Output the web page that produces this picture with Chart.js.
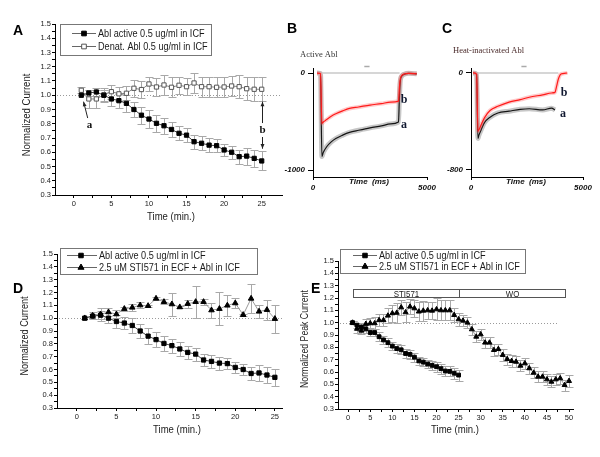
<!DOCTYPE html>
<html>
<head>
<meta charset="utf-8">
<script src="https://cdn.jsdelivr.net/npm/chart.js@4.4.1/dist/chart.umd.min.js"></script>
<style>
  html, body { margin: 0; padding: 0; background: #fff; }
  #fig { position: relative; width: 600px; height: 457px; overflow: hidden; }
  #fig canvas { position: absolute; left: 0; top: 0; }
</style>
</head>
<body>
<div id="fig">
  <canvas id="panelA" width="600" height="457"></canvas>
  <canvas id="panelB" width="600" height="457"></canvas>
  <canvas id="panelC" width="600" height="457"></canvas>
  <canvas id="panelD" width="600" height="457"></canvas>
  <canvas id="panelE" width="600" height="457"></canvas>
</div>
<script>
// ---- data ----
const minutes25 = [1, 2, 3, 4, 5, 6, 7, 8, 9, 10, 11, 12, 13, 14, 15, 16, 17, 18, 19, 20, 21, 22, 23, 24, 25];
const minutes50 = [1, 2, 3, 4, 5, 6, 7, 8, 9, 10, 11, 12, 13, 14, 15, 16, 17, 18, 19, 20, 21, 22, 23, 24, 25,
  26, 27, 28, 29, 30, 31, 32, 33, 34, 35, 36, 37, 38, 39, 40, 41, 42, 43, 44, 45, 46, 47, 48, 49, 50];

// A and D: active Abl
const ablActive = [1.00, 1.016, 1.023, 1.00, 0.974, 0.962, 0.943, 0.90, 0.86, 0.833, 0.803, 0.786, 0.76,
  0.733, 0.72, 0.674, 0.663, 0.65, 0.646, 0.616, 0.60, 0.569, 0.573, 0.557, 0.539];
const ablActiveErr = [0, 0.02, 0.03, 0.04, 0.05, 0.05, 0.06, 0.055, 0.06, 0.06, 0.06, 0.055, 0.055, 0.05,
  0.05, 0.05, 0.05, 0.05, 0.045, 0.045, 0.045, 0.05, 0.06, 0.06, 0.067];
// A: denatured Abl
const ablDenat = [1.035, 0.974, 0.974, 1.003, 1.025, 1.01, 1.014, 1.049, 1.04, 1.079, 1.058, 1.072, 1.056,
  1.07, 1.06, 1.086, 1.06, 1.06, 1.056, 1.058, 1.065, 1.06, 1.046, 1.042, 1.042];
const ablDenatErr = [0.02, 0.06, 0.06, 0.05, 0.05, 0.05, 0.05, 0.06, 0.06, 0.05, 0.06, 0.07, 0.07, 0.06,
  0.06, 0.07, 0.07, 0.07, 0.07, 0.07, 0.07, 0.08, 0.08, 0.085, 0.085];
// D: STI571 in ECF + Abl in ICF
const stiD = [1.00, 1.02, 1.031, 1.047, 1.031, 1.073, 1.083, 1.101, 1.096, 1.153, 1.127, 1.109, 1.086,
  1.112, 1.127, 1.127, 1.062, 1.073, 1.099, 1.117, 1.026, 1.153, 1.052, 1.065, 0.995];
const stiDErr = [0, 0.03, 0.05, 0.03, 0.03, 0.015, 0.03, 0.025, 0.01, 0.015, 0.02, 0.09, 0.01, 0.03, 0.125,
  0.025, 0.06, 0.13, 0.085, 0.04, 0.01, 0.11, 0.05, 0.078, 0.11];
// E: active Abl (25 min) and STI571 then wash-out (50 min)
const ablActiveE = [1.00, 0.98, 0.965, 0.95, 0.92, 0.92, 0.886, 0.86, 0.838, 0.81, 0.79, 0.78, 0.75, 0.743,
  0.72, 0.69, 0.68, 0.665, 0.654, 0.643, 0.627, 0.608, 0.605, 0.59, 0.575];
const ablActiveEErr = [0.01, 0.02, 0.03, 0.03, 0.03, 0.03, 0.035, 0.035, 0.035, 0.035, 0.035, 0.035, 0.035,
  0.035, 0.035, 0.035, 0.035, 0.035, 0.035, 0.04, 0.04, 0.04, 0.04, 0.045, 0.045];
const stiE = [1.00, 0.95, 0.935, 0.99, 0.995, 0.995, 1.02, 1.02, 1.057, 1.076, 1.08, 1.124, 1.084, 1.13,
  1.116, 1.09, 1.097, 1.10, 1.097, 1.108, 1.10, 1.10, 1.10, 1.062, 1.027, 1.016, 1.00, 0.946, 0.886, 0.905,
  0.838, 0.838, 0.778, 0.786, 0.738, 0.705, 0.689, 0.683, 0.651, 0.67, 0.63, 0.594, 0.562, 0.562, 0.54,
  0.521, 0.54, 0.549, 0.494, 0.527];
const stiEErr = [0.01, 0.03, 0.03, 0.04, 0.04, 0.05, 0.05, 0.05, 0.06, 0.07, 0.08, 0.06, 0.08, 0.06, 0.07,
  0.08, 0.08, 0.07, 0.07, 0.09, 0.08, 0.08, 0.08, 0.06, 0.05, 0.045, 0.045, 0.045, 0.045, 0.045, 0.045,
  0.045, 0.045, 0.045, 0.045, 0.045, 0.045, 0.045, 0.045, 0.045, 0.045, 0.045, 0.045, 0.045, 0.045, 0.045,
  0.045, 0.045, 0.045, 0.045];

// B and C: current traces (ms, pA)
const traceTimeB = [175, 330, 390, 450, 600, 800, 1000, 1300, 1600, 2000, 2500, 3000, 3400, 3750, 3790,
  3830, 3900, 4000, 4200, 4550];
const traceBRed = [0, -5, -520, -505, -480, -445, -420, -390, -365, -350, -330, -315, -300, -290, -150,
  -60, -25, -10, -3, -8];
const traceBBlack = [0, -5, -860, -820, -760, -710, -675, -640, -612, -590, -565, -545, -525, -505, -250,
  -80, -30, -12, -3, -8];
const leakTimeB = [175, 3800];
const leakB = [0, 0];
const traceTimeC = [90, 250, 310, 350, 450, 600, 850, 1200, 1700, 2200, 2600, 3200, 3600, 3750, 3820,
  3900, 3980, 4100, 4300];
const traceCRed = [0, -10, -480, -470, -430, -370, -310, -275, -240, -220, -200, -180, -165, -160, -110,
  -50, -15, -5, 0];
const traceTimeCBlack = [90, 250, 310, 350, 450, 600, 850, 1200, 1700, 2200, 2600, 3200, 3600, 3750];
const traceCBlack = [0, -10, -540, -515, -470, -410, -365, -330, -315, -300, -295, -305, -290, -305];
const leakTimeC = [90, 3900];
const leakC = [0, 0];

// tick labels
const yTicksNorm = [0.3, 0.4, 0.5, 0.6, 0.7, 0.8, 0.9, 1.0, 1.1, 1.2, 1.3, 1.4, 1.5];
const xTicks25 = [0, 5, 10, 15, 20, 25];
const xTicks50 = [0, 5, 10, 15, 20, 25, 30, 35, 40, 45, 50];
const traceXTicks = [0, 5000];
const traceYTicksB = [-1000, 0];
const traceYTicksC = [-800, 0];

// ---- fonts ----
const probe = document.createElement('canvas').getContext('2d');
function probeWidth(font) { probe.font = font; return probe.measureText('Abl active 0.5 ug/ml').width; }
const hasNarrow = probeWidth('40px "Liberation Sans Narrow", monospace') !== probeWidth('40px monospace');
const SANS = hasNarrow ? '"Liberation Sans Narrow", "Liberation Sans", Arial, sans-serif'
                       : '"Liberation Sans", Arial, sans-serif';
const SQ = hasNarrow ? 1 : 0.83;           // horizontal squeeze when no narrow face
const ARIAL = '"Liberation Sans", Arial, sans-serif';
const SERIF = '"Liberation Serif", "Times New Roman", serif';
const tickFont = { family: SANS, size: hasNarrow ? 9 : 7.5 };

// ---- helpers ----
const pts = (xs, ys) => xs.map((x, i) => ({ x, y: ys[i] }));

function withMinor(major) {
  const out = [];
  major.forEach((v, i) => {
    out.push({ value: v });
    if (i < major.length - 1) out.push({ value: (v + major[i + 1]) / 2, minor: true });
  });
  return out;
}

function label(ctx, str, x, y, o = {}) {
  ctx.save();
  ctx.font = o.font;
  ctx.fillStyle = o.color || '#222';
  ctx.textAlign = o.align || 'center';
  ctx.textBaseline = o.baseline || 'middle';
  ctx.translate(x, y);
  if (o.rotate) ctx.rotate(-Math.PI / 2);
  if (o.squeeze) ctx.scale(SQ, 1);
  ctx.fillText(str, 0, 0);
  ctx.restore();
}

function marker(ctx, style, x, y, r, fill, stroke) {
  ctx.save();
  ctx.fillStyle = fill;
  ctx.strokeStyle = stroke;
  ctx.lineWidth = 1;
  ctx.beginPath();
  if (style === 'rect') {
    const s = r * Math.SQRT1_2;
    ctx.rect(x - s, y - s, 2 * s, 2 * s);
  } else {
    ctx.moveTo(x, y - r);
    ctx.lineTo(x + 0.866 * r, y + 0.5 * r);
    ctx.lineTo(x - 0.866 * r, y + 0.5 * r);
    ctx.closePath();
  }
  ctx.fill();
  ctx.stroke();
  ctx.restore();
}

function legendBox(ctx, box, rows) {
  ctx.save();
  ctx.strokeStyle = '#777';
  ctx.lineWidth = 1;
  ctx.strokeRect(box.x + 0.5, box.y + 0.5, box.w, box.h);
  rows.forEach(r => {
    ctx.strokeStyle = '#666';
    ctx.beginPath();
    ctx.moveTo(box.line[0], r.y + 0.5);
    ctx.lineTo(box.line[1], r.y + 0.5);
    ctx.stroke();
    marker(ctx, r.style, box.mark, r.y + 0.5, r.r, r.fill, r.stroke);
    label(ctx, r.text, box.text, r.y + 0.5, { font: `11px ${SANS}`, align: 'left', squeeze: true, color: '#1a1a1a' });
  });
  ctx.restore();
}

function arrow(ctx, x1, y1, x2, y2) {
  const a = Math.atan2(y2 - y1, x2 - x1), h = 5;
  ctx.save();
  ctx.strokeStyle = '#222';
  ctx.fillStyle = '#222';
  ctx.lineWidth = 1;
  ctx.beginPath();
  ctx.moveTo(x1, y1);
  ctx.lineTo(x2, y2);
  ctx.stroke();
  ctx.beginPath();
  ctx.moveTo(x2, y2);
  ctx.lineTo(x2 - h * Math.cos(a - 0.4), y2 - h * Math.sin(a - 0.4));
  ctx.lineTo(x2 - h * Math.cos(a + 0.4), y2 - h * Math.sin(a + 0.4));
  ctx.closePath();
  ctx.fill();
  ctx.restore();
}

const errorBars = {
  id: 'errorBars',
  beforeDatasetsDraw(chart) {
    const { ctx, scales: { x, y } } = chart;
    ctx.save();
    ctx.strokeStyle = '#a8a8a8';
    ctx.lineWidth = 1;
    chart.data.datasets.forEach(ds => {
      if (!ds.errors) return;
      const cap = 4;
      ds.data.forEach((p, i) => {
        const e = ds.errors[i];
        if (!e) return;
        const px = Math.round(x.getPixelForValue(p.x)) + 0.5;
        const top = Math.round(y.getPixelForValue(p.y + e)) + 0.5;
        const bot = Math.round(y.getPixelForValue(p.y - e)) + 0.5;
        ctx.beginPath();
        ctx.moveTo(px, top); ctx.lineTo(px, bot);
        ctx.moveTo(px - cap, top); ctx.lineTo(px + cap, top);
        ctx.moveTo(px - cap, bot); ctx.lineTo(px + cap, bot);
        ctx.stroke();
      });
    });
    ctx.restore();
  }
};

const unityLine = {
  id: 'unityLine',
  beforeDatasetsDraw(chart) {
    const { ctx, chartArea: a, scales: { y } } = chart;
    const py = Math.round(y.getPixelForValue(1)) + 0.5;
    ctx.save();
    ctx.strokeStyle = '#9a9a9a';
    ctx.lineWidth = 1;
    ctx.setLineDash([1, 2]);
    ctx.beginPath();
    ctx.moveTo(a.left + 2, py);
    ctx.lineTo(a.right - (chart.options.unityInset || 0), py);
    ctx.stroke();
    ctx.restore();
  }
};

// ---- time course panels (A, D, E) ----
function timeCourse(id, area, xRange, xMajor, datasets, decorate, unityInset) {
  const Wy = 40, Hx = 22;
  return new Chart(document.getElementById(id), {
    type: 'line',
    data: { datasets },
    options: {
      responsive: false,
      animation: false,
      events: [],
      unityInset: unityInset || 0,
      layout: { padding: { left: area.left - Wy, top: area.top, right: 600 - area.right, bottom: 457 - area.bottom - Hx } },
      plugins: { legend: { display: false }, tooltip: { enabled: false } },
      scales: {
        x: {
          type: 'linear', bounds: 'data', min: xRange[0], max: xRange[1],
          afterBuildTicks: s => { s.ticks = withMinor(xMajor); },
          afterFit: s => { s.height = Hx; },
          ticks: {
            autoSkip: false, maxRotation: 0, minRotation: 0, padding: 1, color: '#222', font: tickFont,
            callback: (v, i, t) => (t[i].minor ? '' : String(v))
          },
          grid: { drawOnChartArea: false, tickLength: 3, color: '#000', tickColor: '#000' },
          border: { display: true, color: '#000', width: 1 }
        },
        y: {
          type: 'linear', bounds: 'data', min: 0.3, max: 1.5,
          afterBuildTicks: s => { s.ticks = withMinor(yTicksNorm); },
          afterFit: s => { s.width = Wy; },
          ticks: {
            autoSkip: false, padding: 1, color: '#222', font: tickFont,
            callback: (v, i, t) => (t[i].minor ? '' : v.toFixed(1))
          },
          grid: { drawOnChartArea: false, tickLength: 3, color: '#000', tickColor: '#000' },
          border: { display: true, color: '#000', width: 1 }
        }
      }
    },
    plugins: [unityLine, errorBars, { id: 'decor', afterDraw: chart => decorate(chart, chart.ctx) }]
  });
}

function squares(name, xs, ys, errs, open, r) {
  return {
    label: name, data: pts(xs, ys), errors: errs,
    borderColor: open ? '#8a8a8a' : '#444', borderWidth: 1,
    pointStyle: 'rect', pointRadius: r, pointBorderWidth: 1,
    pointBackgroundColor: open ? '#fff' : '#000', pointBorderColor: open ? '#555' : '#000'
  };
}
function triangles(name, xs, ys, errs, r) {
  return {
    label: name, data: pts(xs, ys), errors: errs,
    borderColor: '#9a9a9a', borderWidth: 1,
    pointStyle: 'triangle', pointRadius: r, pointBorderWidth: 1,
    pointBackgroundColor: '#000', pointBorderColor: '#000'
  };
}

const nameActive = 'Abl active 0.5 ug/ml in ICF';
const nameDenat = 'Denat. Abl 0.5 ug/ml in ICF';
const nameSti = '2.5 uM STI571 in ECF + Abl in ICF';

// Panel A
timeCourse('panelA', { left: 55, right: 282, top: 24, bottom: 195 }, [-2.5, 27.7], xTicks25, [
  squares(nameActive, minutes25, ablActive, ablActiveErr, false, 3),
  squares(nameDenat, minutes25, ablDenat, ablDenatErr, true, 3)
], (chart, ctx) => {
  const { x, y } = chart.scales;
  label(ctx, 'A', 13, 35, { font: `bold 14px ${ARIAL}`, align: 'left', baseline: 'alphabetic', color: '#000' });
  label(ctx, 'Normalized Current', 27, 115, { font: `11.5px ${SANS}`, rotate: true, squeeze: true });
  label(ctx, 'Time (min.)', 171, 217, { font: `11.5px ${SANS}`, squeeze: true });
  legendBox(ctx, { x: 60, y: 24, w: 151, h: 31, line: [72, 96], mark: 84, text: 98 }, [
    { y: 33, text: nameActive, style: 'rect', r: 3.3, fill: '#000', stroke: '#000' },
    { y: 46, text: nameDenat, style: 'rect', r: 3.3, fill: '#fff', stroke: '#555' }
  ]);
  arrow(ctx, x.getPixelForValue(1.85), y.getPixelForValue(0.84), x.getPixelForValue(1.3), y.getPixelForValue(0.955));
  label(ctx, 'a', x.getPixelForValue(2.1), y.getPixelForValue(0.79), { font: `bold 11px ${SERIF}`, color: '#111' });
  const bx = Math.round(x.getPixelForValue(25)) + 0.5;
  arrow(ctx, bx, y.getPixelForValue(0.805), bx, y.getPixelForValue(0.955));
  arrow(ctx, bx, y.getPixelForValue(0.707), bx, y.getPixelForValue(0.625));
  label(ctx, 'b', bx, y.getPixelForValue(0.755), { font: `bold 11px ${SERIF}`, color: '#111' });
});

// Panel D
timeCourse('panelD', { left: 57, right: 282, top: 254, bottom: 408 }, [-2.5, 25.9], xTicks25, [
  squares(nameActive, minutes25, ablActive, ablActiveErr, false, 3),
  triangles(nameSti, minutes25, stiD, stiDErr, 3.2)
], (chart, ctx) => {
  label(ctx, 'D', 13, 293, { font: `bold 14px ${ARIAL}`, align: 'left', baseline: 'alphabetic', color: '#000' });
  label(ctx, 'Normalized Current', 25, 336, { font: `11px ${SANS}`, rotate: true, squeeze: true });
  label(ctx, 'Time (min.)', 177, 430, { font: `11.5px ${SANS}`, squeeze: true });
  legendBox(ctx, { x: 60, y: 248, w: 197, h: 26, line: [67, 97], mark: 81, text: 99 }, [
    { y: 255, text: nameActive, style: 'rect', r: 3.2, fill: '#000', stroke: '#000' },
    { y: 267, text: nameSti, style: 'triangle', r: 3.5, fill: '#000', stroke: '#000' }
  ]);
});

// Panel E
const phaseEdges = [1, 25, 49];
const phaseNames = ['STI571', 'WO'];
timeCourse('panelE', { left: 338, right: 573, top: 261, bottom: 409 }, [-2.3, 50.9], xTicks50, [
  squares(nameActive, minutes25, ablActiveE, ablActiveEErr, false, 2.7),
  triangles(nameSti, minutes50, stiE, stiEErr, 2.9)
], (chart, ctx) => {
  const { x, y } = chart.scales;
  label(ctx, 'E', 311, 293, { font: `bold 14px ${ARIAL}`, align: 'left', baseline: 'alphabetic', color: '#000' });
  label(ctx, 'Normalized Peak Current', 305, 339, { font: `10.5px ${SANS}`, rotate: true, squeeze: true });
  label(ctx, 'Time (min.)', 455, 430, { font: `11.5px ${SANS}`, squeeze: true });
  legendBox(ctx, { x: 340, y: 249, w: 185, h: 24, line: [353, 377], mark: 365, text: 379 }, [
    { y: 255, text: nameActive, style: 'rect', r: 3.2, fill: '#000', stroke: '#000' },
    { y: 266, text: nameSti, style: 'triangle', r: 3.5, fill: '#000', stroke: '#000' }
  ]);
  // treatment bar
  const top = Math.round(y.getPixelForValue(1.27)) + 0.5, bot = Math.round(y.getPixelForValue(1.21)) + 0.5;
  ctx.save();
  ctx.strokeStyle = '#555';
  ctx.lineWidth = 1;
  const ex = phaseEdges.map(v => Math.round(x.getPixelForValue(v)) + 0.5);
  ctx.strokeRect(ex[0], top, ex[2] - ex[0], bot - top);
  ctx.beginPath(); ctx.moveTo(ex[1], top); ctx.lineTo(ex[1], bot); ctx.stroke();
  ctx.restore();
  phaseNames.forEach((n, i) => {
    label(ctx, n, (ex[i] + ex[i + 1]) / 2, (top + bot) / 2 + 0.5, { font: `9.5px ${SANS}`, squeeze: true, color: '#222' });
  });
}, 16);

// ---- current trace panels (B, C) ----
function traceChart(id, area, yRange, yTicks, series, decorate) {
  const Wy = 32, Hx = 18;
  const axisFont = { family: ARIAL, size: 8, weight: 'bold', style: 'italic' };
  const datasets = [];
  series.forEach(s => {
    datasets.push({ data: pts(s.t, s.v), borderColor: s.color, borderWidth: s.width, pointRadius: 0,
      cubicInterpolationMode: 'monotone', order: s.order });
    if (s.halo) datasets.push({ data: pts(s.t, s.v), borderColor: s.halo, borderWidth: s.haloWidth, pointRadius: 0,
      cubicInterpolationMode: 'monotone', order: s.order + 0.5 });
  });
  return new Chart(document.getElementById(id), {
    type: 'line',
    data: { datasets },
    options: {
      responsive: false,
      animation: false,
      events: [],
      layout: { padding: { left: area.left - Wy, top: area.top, right: 600 - area.right, bottom: 457 - area.bottom - Hx } },
      plugins: { legend: { display: false }, tooltip: { enabled: false } },
      scales: {
        x: {
          type: 'linear', bounds: 'data', min: 0, max: 5000,
          afterBuildTicks: s => { s.ticks = traceXTicks.map(v => ({ value: v })); },
          afterFit: s => { s.height = Hx; },
          ticks: { autoSkip: false, maxRotation: 0, padding: 3, color: '#111', font: axisFont, callback: v => String(v) },
          grid: { drawOnChartArea: false, tickLength: 3, color: '#000', tickColor: '#000' },
          border: { display: true, color: '#000', width: 1 }
        },
        y: {
          type: 'linear', bounds: 'data', min: yRange[0], max: yRange[1],
          afterBuildTicks: s => { s.ticks = yTicks.map(v => ({ value: v })); },
          afterFit: s => { s.width = Wy; },
          ticks: { autoSkip: false, padding: 3, color: '#111', font: axisFont, callback: v => String(v) },
          grid: { drawOnChartArea: false, tickLength: 5, color: '#000', tickColor: '#000' },
          border: { display: true, color: '#000', width: 1 }
        }
      }
    },
    plugins: [{ id: 'decor', afterDraw: chart => decorate(chart, chart.ctx) }]
  });
}

function traceDecor(letter, lx, title, tx, ty, titleColor, labels) {
  return (chart, ctx) => {
    const { x } = chart.scales, a = chart.chartArea;
    label(ctx, letter, lx, 33, { font: `bold 14px ${ARIAL}`, align: 'left', baseline: 'alphabetic', color: '#000' });
    label(ctx, title, tx, ty, { font: `8.5px ${SERIF}`, align: 'left', color: titleColor });
    label(ctx, 'Time  (ms)', (a.left + a.right) / 2 - 1, 182, { font: `bold italic 8px ${ARIAL}`, color: '#111' });
    // stimulus marker above the traces
    ctx.save();
    ctx.strokeStyle = '#aaa';
    ctx.lineWidth = 1.5;
    ctx.beginPath();
    ctx.moveTo(x.getPixelForValue(2250), a.top - 1.5);
    ctx.lineTo(x.getPixelForValue(2480), a.top - 1.5);
    ctx.stroke();
    ctx.restore();
    labels.forEach(l => label(ctx, l.text, l.x, l.y, { font: `bold 12px ${SERIF}`, color: '#101830' }));
  };
}

traceChart('panelB', { left: 313, right: 427, top: 68, bottom: 177 }, [-1072, 52], traceYTicksB, [
  { t: traceTimeB, v: traceBRed, color: '#ff1a1a', width: 1.2, halo: 'rgba(255,80,80,0.3)', haloWidth: 4, order: 1 },
  { t: leakTimeB, v: leakB, color: '#c8c8c8', width: 1.5, order: 2 },
  { t: traceTimeB, v: traceBBlack, color: '#151515', width: 1.2, halo: 'rgba(70,70,70,0.3)', haloWidth: 5, order: 3 }
], traceDecor('B', 287, 'Active Abl', 300, 55, '#333', [{ text: 'b', x: 404, y: 100 }, { text: 'a', x: 404, y: 125 }]));

traceChart('panelC', { left: 471, right: 583, top: 68, bottom: 177 }, [-858, 41], traceYTicksC, [
  { t: traceTimeC, v: traceCRed, color: '#ff1a1a', width: 1.2, halo: 'rgba(255,80,80,0.3)', haloWidth: 4, order: 1 },
  { t: leakTimeC, v: leakC, color: '#c8c8c8', width: 1.5, order: 2 },
  { t: traceTimeCBlack, v: traceCBlack, color: '#151515', width: 1.2, halo: 'rgba(70,70,70,0.3)', haloWidth: 5, order: 3 }
], traceDecor('C', 442, 'Heat-inactivated Abl', 453, 51, '#4a2a2a', [{ text: 'b', x: 564, y: 93 }, { text: 'a', x: 563, y: 114 }]));
</script>
</body>
</html>
